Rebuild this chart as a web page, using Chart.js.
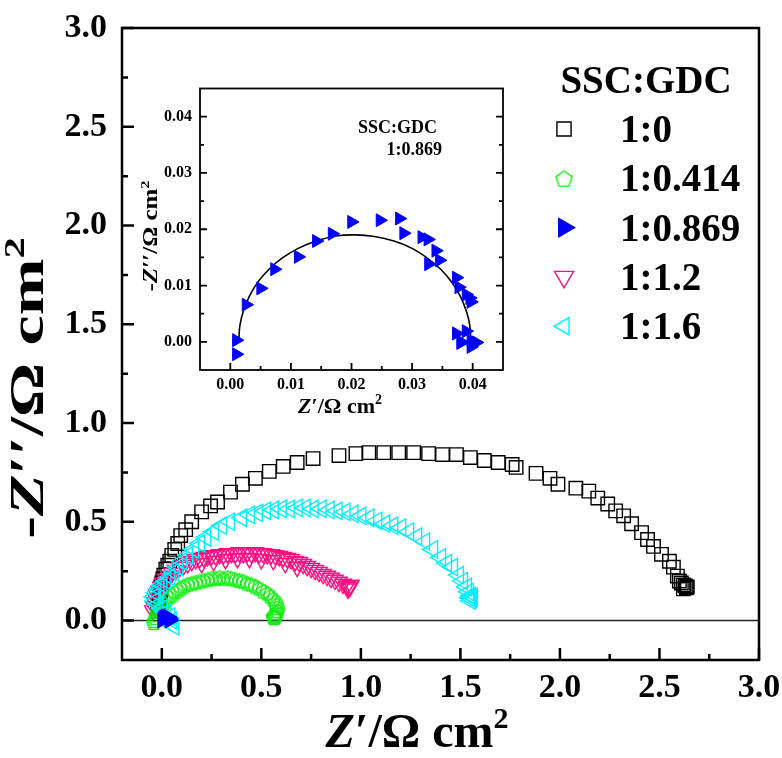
<!DOCTYPE html>
<html>
<head>
<meta charset="utf-8">
<script src="https://cdn.jsdelivr.net/npm/chart.js@4.4.1/dist/chart.umd.min.js"></script>
<style>
  body { margin: 0; background: #fff; }
  #wrap { position: relative; width: 782px; height: 758px; }
  #main { position: absolute; left: 0; top: 0; }
  #inset { position: absolute; left: 130px; top: 80px; }
</style>
</head>
<body>
<div id="wrap">
  <canvas id="main" width="782" height="758"></canvas>
  <canvas id="inset" width="390" height="345"></canvas>
</div>
<script>
const serif = "'Liberation Serif', 'Times New Roman', serif";

/* DATA */
const legendTitle = "SSC:GDC";
const seriesLabels = ["1:0", "1:0.414", "1:0.869", "1:1.2", "1:1.6"];
const xTickValues = [0, 0.5, 1.0, 1.5, 2.0, 2.5, 3.0];
const yTickValues = [0, 0.5, 1.0, 1.5, 2.0, 2.5, 3.0];
const insetTickValues = [0, 0.01, 0.02, 0.03, 0.04];

// 1:0  (Z', -Z'')
const ssc0 = [
  [-0.02, 0.05], [-0.015, 0.07], [-0.015, 0.09], [-0.01, 0.11], [-0.01, 0.13], [-0.005, 0.15],
  [-0.005, 0.17], [0.0, 0.19], [0.005, 0.21], [0.01, 0.23], [0.02, 0.26], [0.03, 0.28],
  [0.04, 0.30], [0.05, 0.33], [0.065, 0.36], [0.08, 0.39], [0.095, 0.43], [0.12, 0.46],
  [0.15, 0.50], [0.20, 0.55], [0.245, 0.58], [0.28, 0.60], [0.345, 0.65], [0.405, 0.69],
  [0.47, 0.72], [0.54, 0.755], [0.61, 0.78], [0.68, 0.80], [0.76, 0.82], [0.89, 0.835],
  [0.975, 0.845], [1.04, 0.85], [1.115, 0.85], [1.19, 0.85], [1.265, 0.85], [1.34, 0.845],
  [1.41, 0.84], [1.48, 0.84], [1.55, 0.825], [1.62, 0.81], [1.69, 0.80], [1.76, 0.79],
  [1.78, 0.775], [1.88, 0.745], [1.95, 0.72], [1.99, 0.69], [2.08, 0.67], [2.145, 0.655],
  [2.19, 0.62], [2.24, 0.59], [2.28, 0.555], [2.32, 0.53], [2.36, 0.49], [2.41, 0.445],
  [2.44, 0.41], [2.47, 0.375], [2.51, 0.335], [2.55, 0.30], [2.57, 0.27], [2.59, 0.225],
  [2.60, 0.20], [2.61, 0.19], [2.62, 0.18], [2.63, 0.175], [2.64, 0.17], [2.62, 0.16], [2.635, 0.165]
];

// 1:0.414
const ssc0414 = [
  [-0.04, -0.01], [-0.035, 0.0], [-0.03, 0.015], [-0.025, 0.03], [-0.02, 0.045], [-0.01, 0.06],
  [0.0, 0.075], [0.01, 0.09], [0.02, 0.105], [0.035, 0.12], [0.05, 0.13], [0.065, 0.145],
  [0.08, 0.155], [0.095, 0.165], [0.11, 0.175], [0.13, 0.185], [0.15, 0.19], [0.17, 0.195],
  [0.19, 0.20], [0.21, 0.205], [0.23, 0.21], [0.25, 0.215], [0.27, 0.215], [0.29, 0.22],
  [0.31, 0.215], [0.33, 0.22], [0.35, 0.215], [0.37, 0.21], [0.39, 0.205], [0.41, 0.20],
  [0.43, 0.19], [0.45, 0.185], [0.47, 0.175], [0.49, 0.165], [0.51, 0.15], [0.53, 0.14],
  [0.545, 0.125], [0.56, 0.11], [0.57, 0.095], [0.575, 0.08], [0.58, 0.065], [0.58, 0.05],
  [0.575, 0.04], [0.57, 0.03], [0.565, 0.025], [0.56, 0.02], [0.565, 0.015], [0.57, 0.02]
];

// 1:0.869 (also the inset data)
const ssc0869 = [
  [0.0010, 0.0003], [0.0010, -0.0022], [0.0026, 0.0066], [0.0050, 0.0095], [0.0073, 0.0129],
  [0.0112, 0.0151], [0.0142, 0.0179], [0.0168, 0.0192], [0.0200, 0.0213], [0.0247, 0.0216],
  [0.0279, 0.0219], [0.0286, 0.0193], [0.0316, 0.0186], [0.0326, 0.0182], [0.0339, 0.0162],
  [0.0327, 0.0138], [0.0345, 0.0145], [0.0373, 0.0114], [0.0377, 0.0097], [0.0389, 0.0084],
  [0.0395, 0.0078], [0.0397, 0.0071], [0.0373, 0.0015], [0.0389, 0.0019], [0.0381, 0.0000],
  [0.0397, 0.0003], [0.0397, -0.0009], [0.0406, -0.0001], [0.0380, -0.0002]
];

// 1:1.2
const ssc12 = [
  [-0.045, 0.05], [-0.04, 0.07], [-0.035, 0.09], [-0.03, 0.11], [-0.025, 0.13], [-0.015, 0.15],
  [-0.005, 0.17], [0.005, 0.19], [0.02, 0.21], [0.035, 0.225], [0.05, 0.24], [0.07, 0.255],
  [0.09, 0.27], [0.11, 0.28], [0.13, 0.29], [0.15, 0.30], [0.17, 0.31], [0.19, 0.315],
  [0.21, 0.32], [0.23, 0.325], [0.25, 0.33], [0.27, 0.33], [0.29, 0.335], [0.31, 0.335],
  [0.33, 0.34], [0.35, 0.34], [0.37, 0.34], [0.39, 0.345], [0.41, 0.34], [0.43, 0.345],
  [0.45, 0.34], [0.47, 0.345], [0.49, 0.34], [0.51, 0.34], [0.53, 0.335], [0.55, 0.335],
  [0.57, 0.33], [0.59, 0.325], [0.61, 0.32], [0.63, 0.315], [0.65, 0.31], [0.67, 0.30],
  [0.69, 0.295], [0.71, 0.285], [0.73, 0.275], [0.75, 0.265], [0.77, 0.255], [0.79, 0.245],
  [0.81, 0.235], [0.83, 0.225], [0.85, 0.215], [0.87, 0.205], [0.89, 0.195], [0.91, 0.185],
  [0.93, 0.175], [0.945, 0.17], [0.95, 0.18], [0.94, 0.165], [0.935, 0.16],
  [0.20, 0.29], [0.26, 0.30], [0.32, 0.31], [0.38, 0.315], [0.44, 0.315], [0.50, 0.31],
  [0.56, 0.305], [0.62, 0.29], [0.68, 0.27]
];

// 1:1.6
const ssc16 = [
  [0.06, -0.03], [0.05, 0.0], [0.04, 0.02], [0.02, 0.04], [0.0, 0.06], [-0.02, 0.08],
  [-0.035, 0.10], [-0.04, 0.12], [-0.03, 0.14], [-0.015, 0.16], [0.0, 0.18], [0.02, 0.20],
  [0.04, 0.22], [0.06, 0.245], [0.08, 0.27], [0.10, 0.30], [0.13, 0.33], [0.16, 0.36],
  [0.19, 0.39], [0.22, 0.42], [0.26, 0.45], [0.30, 0.48], [0.34, 0.50], [0.40, 0.52],
  [0.44, 0.535], [0.48, 0.545], [0.52, 0.555], [0.56, 0.56], [0.60, 0.565], [0.64, 0.565],
  [0.68, 0.57], [0.72, 0.57], [0.76, 0.565], [0.80, 0.565], [0.84, 0.56], [0.88, 0.555],
  [0.92, 0.55], [0.96, 0.54], [1.00, 0.53], [1.04, 0.52], [1.08, 0.505], [1.12, 0.49],
  [1.16, 0.48], [1.20, 0.47], [1.24, 0.45], [1.28, 0.425], [1.32, 0.40], [1.36, 0.36],
  [1.40, 0.32], [1.43, 0.29], [1.46, 0.27], [1.49, 0.23], [1.51, 0.20], [1.53, 0.17],
  [1.54, 0.145], [1.55, 0.125], [1.555, 0.11], [1.55, 0.10], [1.545, 0.115], [1.56, 0.12]
];

// fitted arc shown in the inset
const fit0869 = [
  [0.0014, 0.0003], [0.0016, 0.0030], [0.0022, 0.0056], [0.0032, 0.0082], [0.0046, 0.0107],
  [0.0064, 0.0129], [0.0086, 0.0149], [0.0112, 0.0166], [0.0142, 0.0179], [0.0174, 0.0188],
  [0.0206, 0.0190], [0.0238, 0.0187], [0.0270, 0.0179], [0.0300, 0.0166], [0.0326, 0.0148],
  [0.0348, 0.0128], [0.0366, 0.0105], [0.0380, 0.0080], [0.0390, 0.0053], [0.0395, 0.0030],
  [0.0397, 0.0003]
];

const pts = (arr) => arr.map((p) => ({ x: p[0], y: p[1] }));

/* MARKERS */
function pentagon(color, size) {
  const c = document.createElement("canvas");
  c.width = c.height = size + 4;
  const g = c.getContext("2d");
  g.strokeStyle = color;
  g.lineWidth = 1.4;
  g.beginPath();
  for (let i = 0; i < 5; i++) {
    const a = -Math.PI / 2 + (i * 2 * Math.PI) / 5;
    const px = c.width / 2 + (size / 2) * Math.cos(a);
    const py = c.height / 2 + 1 + (size / 2) * Math.sin(a);
    i ? g.lineTo(px, py) : g.moveTo(px, py);
  }
  g.closePath();
  g.stroke();
  return c;
}

const GREEN = "#11ee11";
const PINK = "#ff1080";
const CYAN = "#00f0ff";
const BLUE = "#0000ff";

const styles = [
  { color: "#000", pointStyle: "rect", rotation: 0, radius: 9.5, legendRadius: 10, fill: false },
  { color: GREEN, pointStyle: pentagon(GREEN, 15), legendStyle: pentagon(GREEN, 17), fill: false },
  { color: BLUE, pointStyle: "triangle", rotation: 90, radius: 7.5, legendRadius: 10.5, fill: true },
  { color: PINK, pointStyle: "triangle", rotation: 180, radius: 9.5, legendRadius: 11, fill: false },
  { color: CYAN, pointStyle: "triangle", rotation: 270, radius: 10, legendRadius: 10, fill: false },
];
const seriesData = [ssc0, ssc0414, ssc0869, ssc12, ssc16];
const drawOrder = [4, 2, 0, 3, 1];

/* HELPERS */
function richText(ctx, parts, x, y, rotate, sx) {
  ctx.save();
  ctx.translate(x, y);
  if (rotate) ctx.rotate(rotate);
  ctx.scale(sx || 1, 1);
  let w = 0;
  parts.forEach((p) => { ctx.font = p[1]; w += ctx.measureText(p[0]).width; });
  let cx = -w / 2;
  ctx.fillStyle = "#000";
  ctx.textAlign = "left";
  ctx.textBaseline = "alphabetic";
  parts.forEach((p) => {
    ctx.font = p[1];
    ctx.fillText(p[0], cx, p[2] || 0);
    cx += ctx.measureText(p[0]).width;
  });
  ctx.restore();
}

function drawFrame(chart, lw, major, minor, rightTicks) {
  const ctx = chart.ctx;
  const { left, right, top, bottom } = chart.chartArea;
  const xs = chart.scales.x, ys = chart.scales.y;
  const xv = xs.ticks.map((t) => t.value);
  const yv = ys.ticks.map((t) => t.value);
  const mids = (v) => v.slice(1).map((b, i) => (b + v[i]) / 2);
  ctx.save();
  ctx.strokeStyle = "#000";
  ctx.lineWidth = lw;
  ctx.beginPath();
  const xt = (v, len) => { const p = xs.getPixelForValue(v); ctx.moveTo(p, bottom); ctx.lineTo(p, bottom - len); };
  const yt = (v, len) => {
    const p = ys.getPixelForValue(v);
    ctx.moveTo(left, p); ctx.lineTo(left + len, p);
    if (rightTicks) { ctx.moveTo(right, p); ctx.lineTo(right - len, p); }
  };
  xv.forEach((v) => xt(v, major));
  mids(xv).forEach((v) => xt(v, minor));
  yv.forEach((v) => yt(v, major));
  mids(yv).forEach((v) => yt(v, minor));
  ctx.stroke();
  ctx.strokeRect(left, top, right - left, bottom - top);
  ctx.restore();
}

// keep the plot box where we put it: no extra room for overhanging tick labels
const fixX = (h) => (s) => { s.height = h; s.paddingLeft = 0; s.paddingRight = 0; };
const fixY = (w) => (s) => { s.width = w; s.paddingTop = 0; s.paddingBottom = 0; };

/* MAIN CHART */
const mainPlugin = {
  id: "mainDecor",
  beforeDatasetsDraw(chart) {
    const ctx = chart.ctx;
    const { left, right } = chart.chartArea;
    const y0 = chart.scales.y.getPixelForValue(0);
    ctx.save();
    ctx.strokeStyle = "#222";
    ctx.lineWidth = 1.4;
    ctx.beginPath();
    ctx.moveTo(left, y0);
    ctx.lineTo(right, y0);
    ctx.stroke();
    ctx.restore();
  },
  afterDraw(chart) {
    const ctx = chart.ctx;
    drawFrame(chart, 2.5, 12, 6, false);

    richText(ctx, [["Z", `italic bold 48px ${serif}`], ["\u2032/\u03A9 cm", `bold 48px ${serif}`], ["2", `bold 30px ${serif}`, -19]], 417, 747);
    richText(ctx, [["-", `bold 48px ${serif}`], ["Z", `italic bold 48px ${serif}`], ["\u2032\u2032/\u03A9 cm", `bold 48px ${serif}`], ["2", `bold 30px ${serif}`, -19]], 43, 388, -Math.PI / 2, 1.42);

    // legend
    ctx.save();
    ctx.fillStyle = "#000";
    ctx.font = `bold 39px ${serif}`;
    ctx.textAlign = "center";
    ctx.textBaseline = "alphabetic";
    ctx.fillText(legendTitle, 646, 93);
    ctx.textAlign = "left";
    seriesLabels.forEach((lab, i) => {
      const base = 142 + i * 49.3;
      ctx.fillStyle = "#000";
      ctx.font = `bold 39px ${serif}`;
      ctx.fillText(lab, 620, base);
      const s = styles[i];
      ctx.strokeStyle = s.color;
      ctx.fillStyle = s.fill ? s.color : "rgba(0,0,0,0)";
      ctx.lineWidth = 1.4;
      Chart.helpers.drawPoint(ctx, {
        pointStyle: s.legendStyle || s.pointStyle,
        rotation: s.rotation || 0,
        radius: s.legendRadius || 10,
        borderWidth: 1.4,
      }, 564, base - 13);
    });
    ctx.restore();
  },
};

new Chart(document.getElementById("main"), {
  type: "scatter",
  data: {
    datasets: seriesData.map((d, i) => ({
      label: seriesLabels[i],
      data: pts(d),
      order: drawOrder[i],
      pointStyle: styles[i].pointStyle,
      rotation: styles[i].rotation || 0,
      radius: styles[i].radius || 8,
      borderColor: styles[i].color,
      backgroundColor: styles[i].fill ? styles[i].color : "rgba(0,0,0,0)",
      borderWidth: 1.4,
    })),
  },
  options: {
    responsive: false,
    animation: false,
    layout: { padding: { top: 28, right: 23, left: 0, bottom: 0 } },
    plugins: { legend: { display: false }, tooltip: { enabled: false } },
    scales: {
      x: {
        type: "linear", min: -0.2, max: 3.0,
        afterBuildTicks: (s) => { s.ticks = xTickValues.map((v) => ({ value: v })); },
        afterFit: fixX(98),
        grid: { display: false, drawTicks: false },
        border: { display: false },
        ticks: { padding: 8, color: "#000", maxRotation: 0, autoSkip: false,
          font: { family: serif, size: 34, weight: "bold" }, callback: (v) => Number(v).toFixed(1) },
      },
      y: {
        type: "linear", min: -0.2, max: 3.0,
        afterBuildTicks: (s) => { s.ticks = yTickValues.map((v) => ({ value: v })); },
        afterFit: fixY(122),
        grid: { display: false, drawTicks: false },
        border: { display: false },
        ticks: { padding: 15, color: "#000", autoSkip: false,
          font: { family: serif, size: 34, weight: "bold" }, callback: (v) => Number(v).toFixed(1) },
      },
    },
  },
  plugins: [mainPlugin],
});

/* INSET CHART */
const insetPlugin = {
  id: "insetDecor",
  beforeDatasetsDraw(chart) {
    const ctx = chart.ctx;
    const { left, right, top, bottom } = chart.chartArea;
    ctx.save();
    ctx.fillStyle = "#fff";
    ctx.fillRect(left, top, right - left, bottom - top);
    ctx.restore();
  },
  afterDraw(chart) {
    const ctx = chart.ctx;
    drawFrame(chart, 1.8, 7, 4, true);
    richText(ctx, [["Z", `italic bold 22px ${serif}`], ["\u2032/\u03A9 cm", `bold 22px ${serif}`], ["2", `bold 14px ${serif}`, -9]], 210, 333);
    richText(ctx, [["-", `bold 20px ${serif}`], ["Z", `italic bold 20px ${serif}`], ["\u2032\u2032/\u03A9 cm", `bold 20px ${serif}`], ["2", `bold 13px ${serif}`, -8]], 27, 156, -Math.PI / 2, 1.25);
    ctx.save();
    ctx.fillStyle = "#000";
    ctx.font = `bold 18px ${serif}`;
    ctx.textBaseline = "alphabetic";
    ctx.textAlign = "left";
    ctx.fillText(legendTitle, 228, 53);
    ctx.textAlign = "right";
    ctx.fillText(seriesLabels[2], 312, 75);
    ctx.restore();
  },
};

new Chart(document.getElementById("inset"), {
  type: "scatter",
  data: {
    datasets: [
      {
        label: seriesLabels[2],
        data: pts(ssc0869),
        order: 0,
        pointStyle: "triangle",
        rotation: 90,
        radius: 7.5,
        borderColor: BLUE,
        backgroundColor: BLUE,
        borderWidth: 1,
      },
      {
        label: "fit",
        data: pts(fit0869),
        order: 1,
        showLine: true,
        tension: 0.4,
        pointRadius: 0,
        borderColor: "#000",
        borderWidth: 1.6,
      },
    ],
  },
  options: {
    responsive: false,
    animation: false,
    layout: { padding: { top: 8, right: 17, left: 0, bottom: 0 } },
    plugins: { legend: { display: false }, tooltip: { enabled: false } },
    scales: {
      x: {
        type: "linear", min: -0.005, max: 0.045,
        afterBuildTicks: (s) => { s.ticks = insetTickValues.map((v) => ({ value: v })); },
        afterFit: fixX(55),
        grid: { display: false, drawTicks: false },
        border: { display: false },
        ticks: { padding: 5, color: "#000", maxRotation: 0, autoSkip: false,
          font: { family: serif, size: 16, weight: "bold" }, callback: (v) => Number(v).toFixed(2) },
      },
      y: {
        type: "linear", min: -0.005, max: 0.045,
        afterBuildTicks: (s) => { s.ticks = insetTickValues.map((v) => ({ value: v })); },
        afterFit: fixY(70),
        grid: { display: false, drawTicks: false },
        border: { display: false },
        ticks: { padding: 8, color: "#000", autoSkip: false,
          font: { family: serif, size: 16, weight: "bold" }, callback: (v) => Number(v).toFixed(2) },
      },
    },
  },
  plugins: [insetPlugin],
});
</script>
</body>
</html>
